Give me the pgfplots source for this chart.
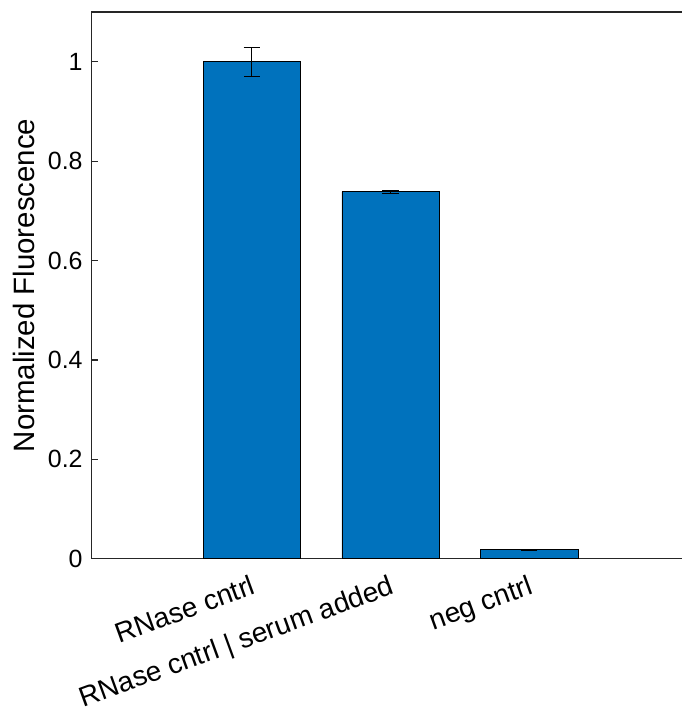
\documentclass[border=0pt]{standalone}
\usepackage{fontspec}
\setmainfont{Liberation Sans}
\usepackage{pgfplots}
\pgfplotsset{compat=1.18}
\definecolor{mblue}{RGB}{0,114,189}
\definecolor{axgray}{RGB}{38,38,38}
\begin{document}
\begin{tikzpicture}
\begin{axis}[
  scale only axis,
  width=590bp, height=546bp,
  xmin=-0.157, xmax=4.1,
  ymin=0, ymax=1.1,
  axis x line*=bottom, axis y line*=left,
  axis line style={axgray, line width=1.1bp},
  xtick={1,2,3},
  xticklabels={RNase cntrl, RNase cntrl | serum added, neg cntrl},
  xtick style={draw=none},
  ytick={0,0.2,0.4,0.6,0.8,1},
  tick align=inside,
  major tick length=7bp,
  ytick style={axgray, line width=1.1bp},
  /pgf/number format/assume math mode=true,
  tick label style={font=\fontsize{25}{28}\selectfont, text=black},
  yticklabel style={xshift=-5bp},
  xticklabel style={font=\fontsize{28}{30}\selectfont, rotate=20, anchor=north east, inner sep=0pt, xshift=-7bp, yshift=-14bp},
  ylabel={Normalized Fluorescence},
  ylabel style={font=\fontsize{29.5}{32}\selectfont, text=black, at={(axis description cs:-0.114,0.5)}, anchor=center},
  clip=false,
]
\addplot[ybar, bar width=0.7, fill=mblue, draw=black, line width=0.7bp,
  error bars/.cd, y dir=both, y explicit,
  error bar style={black, line width=1.1bp},
  error mark options={black, line width=1.1bp, mark size=8bp, rotate=90}]
  coordinates {
  (1,1.0) +- (0,0.029)
  (2,0.7385) +- (0,0.003)
  (3,0.018) +- (0,0.0008)
  };
\draw[axgray, line width=1.1bp] (rel axis cs:0,1) -- (rel axis cs:1,1);
\end{axis}
\pgfresetboundingbox
\path[use as bounding box] (-91bp,-151bp) rectangle (590bp,558bp);
\end{tikzpicture}
\end{document}
